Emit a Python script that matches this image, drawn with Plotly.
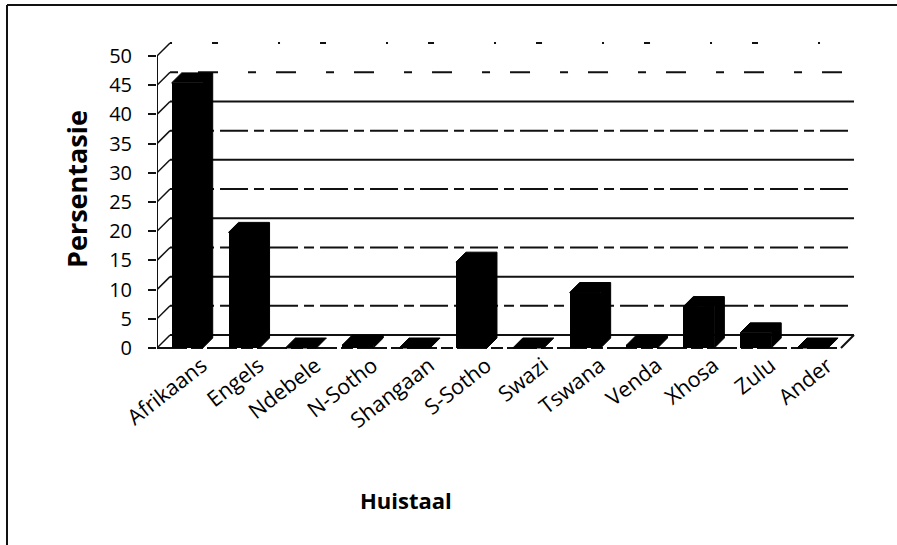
import plotly.graph_objects as go

# Home language distribution (percent)
categories = ["Afrikaans", "Engels", "Ndebele", "N-Sotho", "Shangaan", "S-Sotho",
              "Swazi", "Tswana", "Venda", "Xhosa", "Zulu", "Ander"]
percent = [45.4, 19.8, 0, 0.5, 0, 14.7, 0, 9.5, 0.5, 7.1, 2.6, 0]
y_ticks = [0, 5, 10, 15, 20, 25, 30, 35, 40, 45, 50]

# Pseudo-3D geometry (in axis units)
HALF_W = 0.273          # half width of a column front face
BAR_DX, BAR_DY = 0.176, 1.71    # column depth offset
FLOOR_DX, FLOOR_DY = 0.229, 2.22  # floor / wall depth offset
X_LEFT, X_RIGHT = -0.531, 11.50   # front edge of the floor

# Plot area in pixels
W, H = 897, 545
L, R, T, B = 157, 870, 30, 352
X_RANGE = [X_LEFT, (R - 187.2) / 56.85]
Y_RANGE = [(348 - B) / 5.84, (348 - T) / 5.84]


def px_x(p):
    return (p - L) / (R - L)


def px_y(p):
    return (B - p) / (B - T)


fig = go.Figure()
shapes = []
ink = "#111111"

# Back wall gridlines, left wall diagonals
for v in y_ticks:
    if v == 50:
        dash = "2px,40px,6px,60px"
    elif v == 45:
        dash = "8px,20px,20px,30px"
    elif v % 10 == 0:
        dash = "solid"
    else:
        dash = "28px,6px,10px,6px"
    shapes.append(dict(type="line", xref="x", yref="y", layer="below",
                       x0=X_LEFT + FLOOR_DX, x1=X_RIGHT + FLOOR_DX,
                       y0=v + FLOOR_DY, y1=v + FLOOR_DY,
                       line=dict(color=ink, width=2, dash=dash)))
    shapes.append(dict(type="line", xref="x", yref="y", layer="below",
                       x0=X_LEFT, x1=X_LEFT + FLOOR_DX,
                       y0=v, y1=v + FLOOR_DY,
                       line=dict(color=ink, width=1.5)))

# Value axis line and floor edges
shapes.append(dict(type="line", xref="x", yref="y", layer="below",
                   x0=X_LEFT, x1=X_LEFT, y0=0, y1=50,
                   line=dict(color=ink, width=2)))
shapes.append(dict(type="line", xref="x", yref="y", layer="below",
                   x0=X_LEFT, x1=X_RIGHT, y0=0, y1=0,
                   line=dict(color=ink, width=2, dash="30px,4px,12px,4px")))
shapes.append(dict(type="line", xref="x", yref="y", layer="below",
                   x0=X_RIGHT, x1=X_RIGHT + FLOOR_DX, y0=0, y1=FLOOR_DY,
                   line=dict(color=ink, width=2)))

# Outer chart frame: only its left and top edges lie on the page
shapes.append(dict(type="line", xref="paper", yref="paper",
                   x0=px_x(7), x1=px_x(7), y0=px_y(545), y1=px_y(5),
                   line=dict(color=ink, width=2)))
shapes.append(dict(type="line", xref="paper", yref="paper",
                   x0=px_x(7), x1=px_x(897), y0=px_y(5), y1=px_y(5),
                   line=dict(color=ink, width=2)))

# Column front faces
xs = list(range(len(categories)))
fig.add_trace(go.Bar(x=xs, y=percent, width=2 * HALF_W,
                     marker=dict(color="black", line=dict(width=0)),
                     hoverinfo="skip", showlegend=False))

# Column tops and right sides
for i, v in zip(xs, percent):
    px = [i - HALF_W, i - HALF_W + BAR_DX, i + HALF_W + BAR_DX, i + HALF_W + BAR_DX,
          i + HALF_W, i + HALF_W, i - HALF_W]
    py = [v, v + BAR_DY, v + BAR_DY, BAR_DY, 0, v, v]
    fig.add_trace(go.Scatter(x=px, y=py, mode="lines", fill="toself",
                             fillcolor="black", line=dict(color="black", width=1),
                             hoverinfo="skip", showlegend=False))

font_family = "'Open Sans', Lato, sans-serif"

fig.update_layout(
    width=W, height=H,
    margin=dict(l=L, r=W - R, t=T, b=H - B),
    paper_bgcolor="white", plot_bgcolor="white",
    shapes=shapes,
    bargap=0,
    xaxis=dict(range=X_RANGE, showgrid=False, zeroline=False, showline=False,
               tickmode="array", tickvals=[i + 0.26 for i in xs], ticktext=categories,
               tickangle=-38, ticks="", ticklabelstandoff=-4,
               tickfont=dict(family=font_family, size=21.5, color="black")),
    yaxis=dict(range=Y_RANGE, showgrid=False, zeroline=False, showline=False,
               tickmode="array", tickvals=y_ticks, ticktext=[str(t) for t in y_ticks],
               ticks="outside", ticklen=8, tickwidth=1.5, tickcolor=ink,
               ticklabelstandoff=12,
               tickfont=dict(family=font_family, size=20, color="black")),
    annotations=[
        dict(text="<b>Persentasie</b>", xref="paper", yref="paper",
             x=px_x(76), y=px_y(189), xanchor="center", yanchor="middle",
             textangle=-90, showarrow=False,
             font=dict(family=font_family, size=27, color="black")),
        dict(text="<b>Huistaal</b>", xref="paper", yref="paper",
             x=px_x(406), y=px_y(500), xanchor="center", yanchor="middle",
             showarrow=False,
             font=dict(family=font_family, size=22, color="black")),
    ],
)

fig.write_html("out.html")
